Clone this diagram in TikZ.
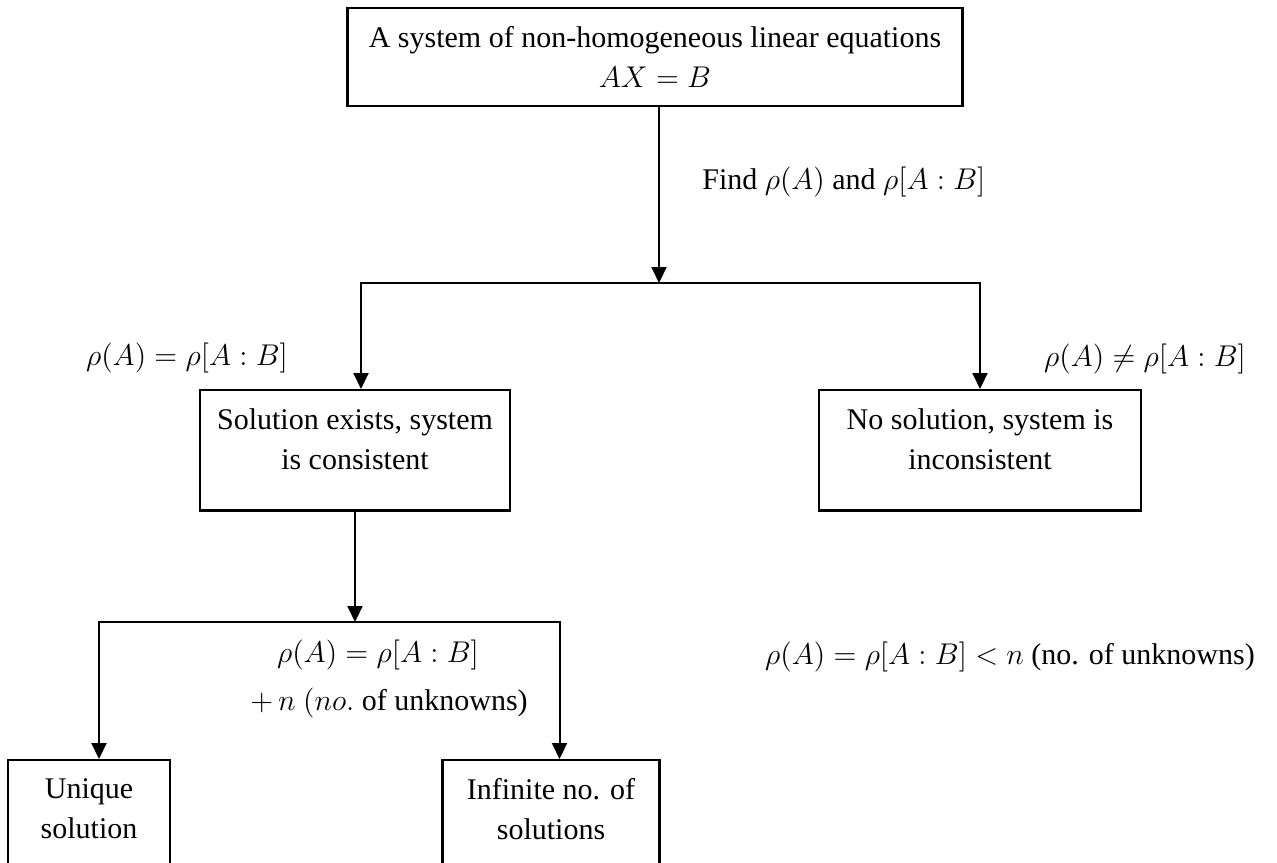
\documentclass[tikz,border=0pt]{standalone}
\usepackage{fontspec}
\setmainfont{Liberation Serif}
\usetikzlibrary{arrows.meta}

\begin{document}
\begin{tikzpicture}[x=0.4pt, y=-0.4pt, >={Triangle[length=6.4pt,width=6pt]}, line width=0.8pt,
	txt/.style={font=\fontsize{12}{16}\selectfont},
	box/.style={txt, draw, line width=0.9pt, align=center, anchor=north, inner xsep=0pt, inner ysep=7.4pt, text depth=9pt}]
	% page
	\clip (0,0) rectangle (1277,862);
	
	% Boxes {sys, cons, incons, uniq, inf}
	\node [box, text depth=0pt, minimum width=246pt] (sys)    at (655,7)   {A system of non-homogeneous linear equations\\ $AX = B$};
	\node [box, minimum width=124pt]                 (cons)   at (355,389) {Solution exists, system\\ is consistent};
	\node [box, minimum width=128.8pt]               (incons) at (980,389) {No solution, system is\\ inconsistent};
	\node [box, minimum width=64.8pt]                (uniq)   at (89,759)  {Unique\\ solution};
	\node [box, minimum width=86.8pt]                (inf)    at (551,759) {Infinite no. of\\ solutions};
	
	% Labels
	\node [txt, anchor=west] (find) at (693,182)  {Find $\rho(A)$ and $\rho[A : B]$};
	\node [txt] (eqL)  at (187,358)  {$\rho(A) = \rho[A : B]$};
	\node [txt] (neqR) at (1145,359) {$\rho(A) \neq \rho[A : B]$};
	\node [txt] (eqB)  at (378,655)  {$\rho(A) = \rho[A : B]$};
	\node [txt] (plus) at (389,703)  {$+\,n\ (no.$ of unknowns)};
	\node [txt] (ltR)  at (1010,657) {$\rho(A) = \rho[A : B] < n$ (no. of unknowns)};
	
	% Junctions
	\coordinate (j1) at (659,283);
	\coordinate (j2) at (355,622);
	
	% Paths
	\draw [->] (sys.south -| j1) -- (j1);
	\draw [->] (j1) -| ([xshift=2.4pt]cons.north);
	\draw [->] (j1) -| (incons.north);
	\draw [->] (cons.south) -- (j2);
	\draw [->] (j2) -| ([xshift=4pt]uniq.north);
	\draw [->] (j2) -| ([xshift=3.4pt]inf.north);
\end{tikzpicture}
\end{document}
